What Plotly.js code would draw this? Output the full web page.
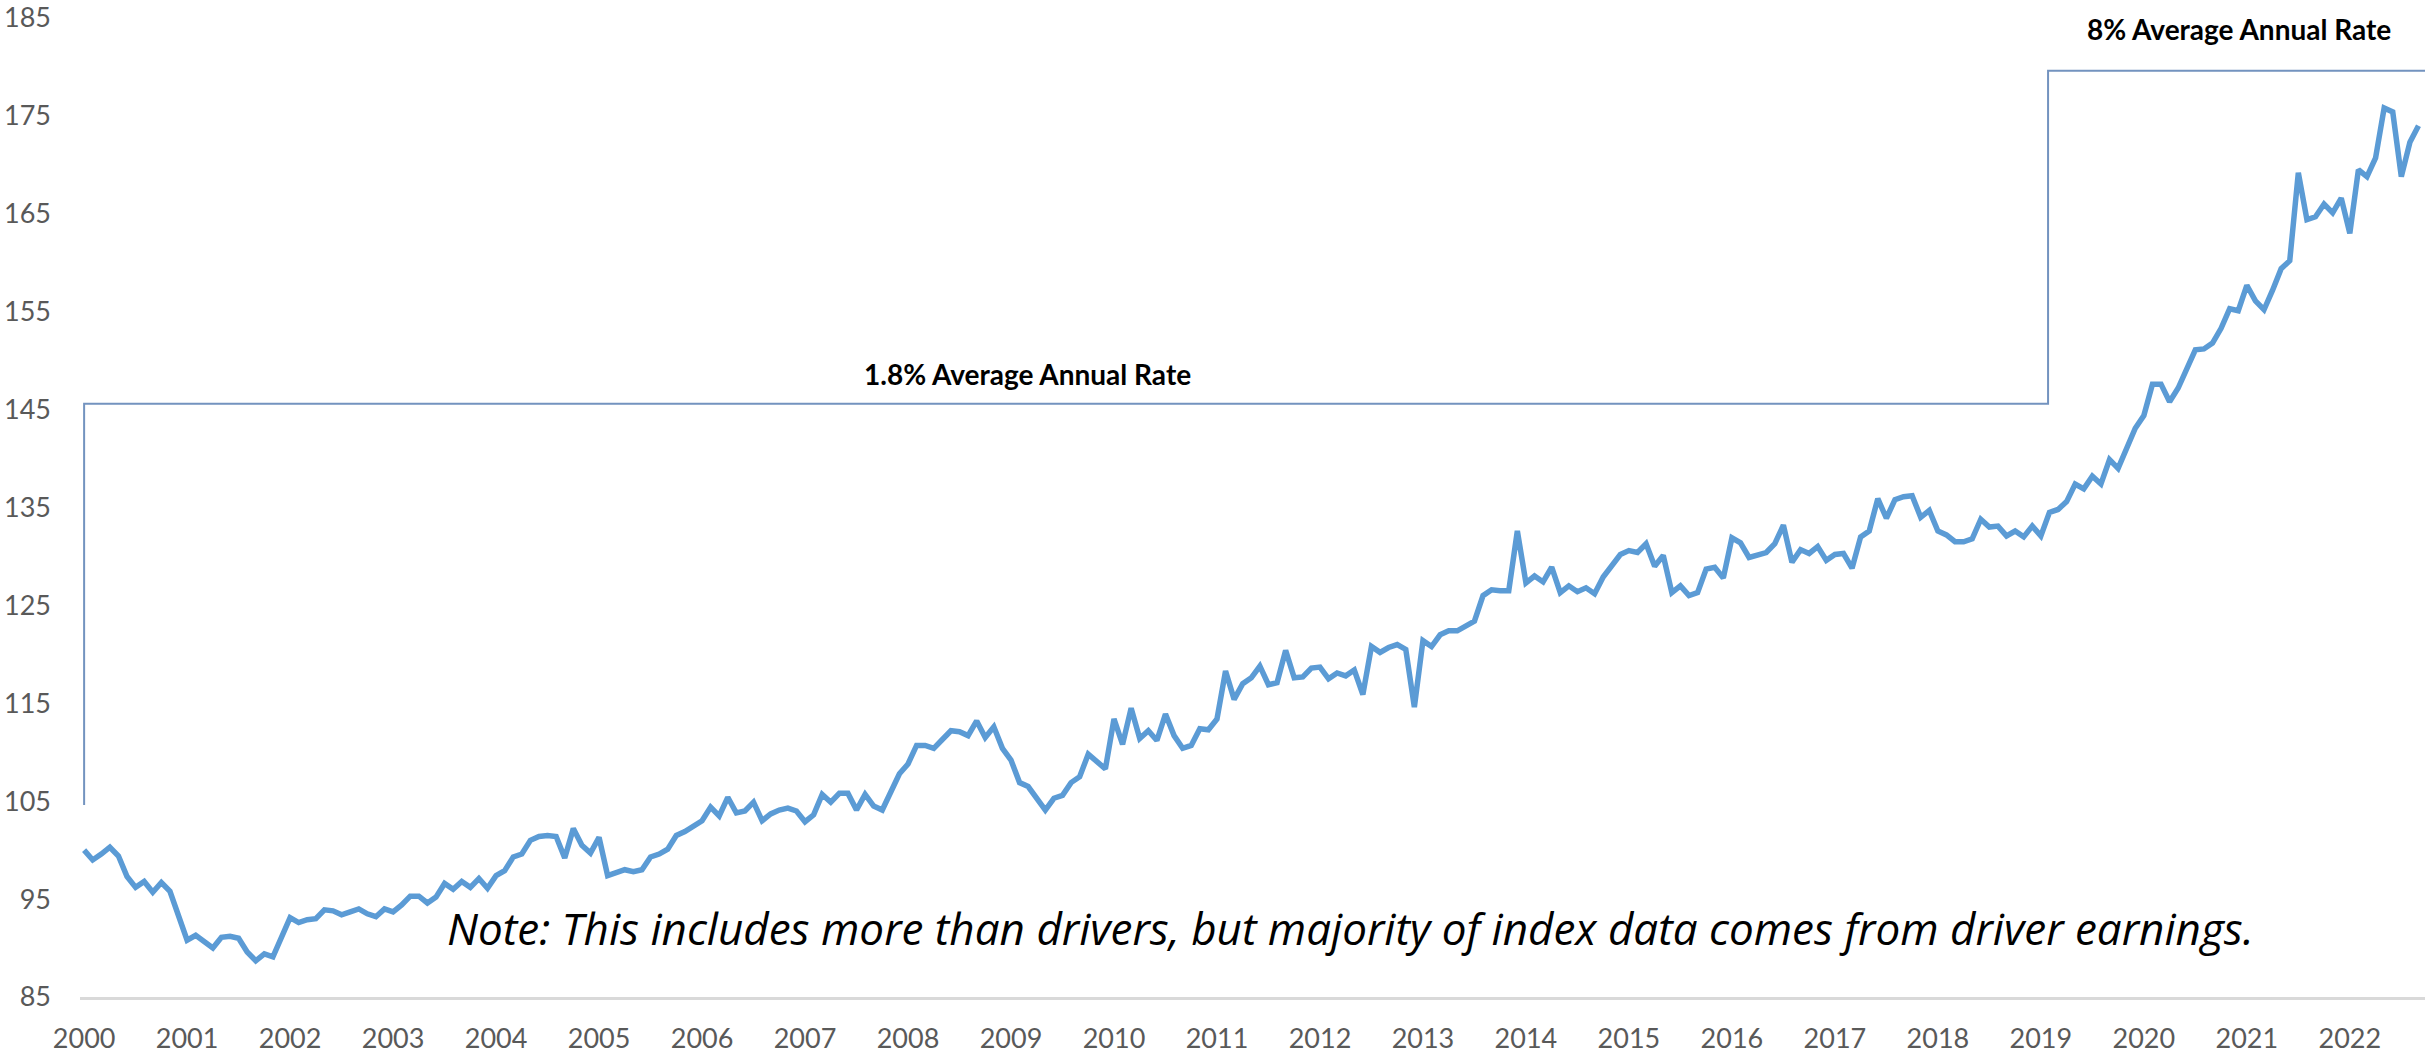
<!DOCTYPE html>
<html>
<head>
<meta charset="utf-8">
<script src="https://cdn.plot.ly/plotly-3.0.1.min.js"></script>
<style>
  html, body { margin: 0; padding: 0; background: #ffffff; }
  #chart { width: 2425px; height: 1053px; }
</style>
</head>
<body>
<div id="chart"></div>
<script>
// Monthly index values, Jan 2000 - Sep 2022 (one row per year)
const startYear = 2000;
const v2000 = [100.0, 99.0, 99.6, 100.3, 99.4, 97.3, 96.2, 96.8, 95.7, 96.7, 95.8, 93.4];
const v2001 = [90.8, 91.3, 90.6, 90.0, 91.1, 91.2, 91.0, 89.6, 88.7, 89.4, 89.1, 91.2];
const v2002 = [93.1, 92.6, 92.9, 93.0, 93.9, 93.8, 93.4, 93.7, 94.0, 93.5, 93.2, 94.0];
const v2003 = [93.7, 94.4, 95.3, 95.3, 94.6, 95.2, 96.6, 96.0, 96.8, 96.2, 97.1, 96.1];
const v2004 = [97.4, 97.9, 99.3, 99.6, 101.0, 101.4, 101.5, 101.4, 99.2, 102.2, 100.5, 99.7];
const v2005 = [101.3, 97.4, 97.7, 98.0, 97.8, 98.0, 99.3, 99.6, 100.1, 101.5, 101.9, 102.4];
const v2006 = [103.0, 104.4, 103.5, 105.4, 103.8, 104.0, 104.9, 103.0, 103.7, 104.1, 104.3, 104.0];
const v2007 = [102.9, 103.6, 105.7, 104.9, 105.8, 105.8, 104.1, 105.7, 104.5, 104.1, 105.9, 107.8];
const v2008 = [108.8, 110.7, 110.7, 110.4, 111.3, 112.2, 112.1, 111.7, 113.2, 111.5, 112.6, 110.4];
const v2009 = [109.2, 106.9, 106.5, 105.3, 104.1, 105.3, 105.6, 106.9, 107.5, 109.8, 109.0, 108.3];
const v2010 = [113.4, 110.8, 114.5, 111.4, 112.2, 111.2, 113.9, 111.7, 110.4, 110.7, 112.4, 112.3];
const v2011 = [113.4, 118.3, 115.4, 117.0, 117.6, 118.8, 116.9, 117.1, 120.4, 117.6, 117.7, 118.6];
const v2012 = [118.7, 117.5, 118.1, 117.8, 118.4, 115.9, 120.8, 120.2, 120.7, 121.0, 120.5, 114.6];
const v2013 = [121.4, 120.8, 122.0, 122.4, 122.4, 122.9, 123.4, 126.0, 126.6, 126.5, 126.5, 132.6];
const v2014 = [127.3, 128.0, 127.4, 128.9, 126.3, 127.0, 126.4, 126.8, 126.2, 127.9, 129.0, 130.2];
const v2015 = [130.6, 130.4, 131.3, 129.0, 130.1, 126.3, 127.0, 126.0, 126.3, 128.7, 128.9, 127.8];
const v2016 = [131.9, 131.4, 129.9, 130.2, 130.4, 131.3, 133.2, 129.4, 130.7, 130.3, 131.0, 129.6];
const v2017 = [130.2, 130.3, 128.8, 132.0, 132.6, 135.9, 133.9, 135.8, 136.1, 136.2, 134.0, 134.7];
const v2018 = [132.6, 132.2, 131.5, 131.5, 131.8, 133.8, 133.0, 133.1, 132.1, 132.6, 132.0, 133.1];
const v2019 = [132.1, 134.5, 134.8, 135.6, 137.4, 136.9, 138.2, 137.4, 139.9, 139.0, 140.9, 143.1];
const v2020 = [144.4, 147.6, 147.6, 145.8, 147.2, 149.2, 151.1, 151.2, 151.8, 153.3, 155.3, 155.1];
const v2021 = [157.7, 156.1, 155.2, 157.2, 159.4, 160.2, 169.2, 164.4, 164.7, 166.0, 165.1, 166.6];
const v2022 = [163.0, 169.5, 168.8, 170.7, 175.8, 175.4, 168.8, 172.3, 174.0];

// Rate bracket (period boundaries and levels)
const bracketX = [2000, 2000, 2019.07, 2019.07, 2022.8];
const bracketY = [104.6, 145.6, 145.6, 179.6, 179.6];

// Labels
const yearTicks = [2000, 2001, 2002, 2003, 2004, 2005, 2006, 2007, 2008, 2009, 2010, 2011,
                   2012, 2013, 2014, 2015, 2016, 2017, 2018, 2019, 2020, 2021, 2022];
const yTicks = [85, 95, 105, 115, 125, 135, 145, 155, 165, 175, 185];
const rateLabel1 = '1.8% Average Annual Rate';
const rateLabel2 = '8% Average Annual Rate';
const noteText = 'Note: This includes more than drivers, but majority of index data comes from driver earnings.';

const values = [].concat(v2000, v2001, v2002, v2003, v2004, v2005, v2006, v2007, v2008, v2009,
  v2010, v2011, v2012, v2013, v2014, v2015, v2016, v2017, v2018, v2019, v2020, v2021, v2022);
const months = values.map((_, i) => startYear + i / 12);

const traces = [
  {
    x: bracketX, y: bracketY, type: 'scatter', mode: 'lines',
    line: { color: '#7393BF', width: 2 }, hoverinfo: 'skip'
  },
  {
    x: months, y: values, type: 'scatter', mode: 'lines',
    line: { color: '#5B9BD5', width: 5.5 }
  }
];

const tickFont = { family: 'Lato, "Open Sans", sans-serif', size: 27, color: '#595959' };

const layout = {
  width: 2425, height: 1053,
  margin: { l: 80, r: 0, t: 18, b: 56 },
  paper_bgcolor: '#ffffff', plot_bgcolor: '#ffffff',
  showlegend: false,
  xaxis: {
    range: [1999.96, 2022.73],
    tickmode: 'array', tickvals: yearTicks, ticktext: yearTicks.map(String),
    showgrid: false, zeroline: false,
    showline: true, linecolor: '#D9D9D9', linewidth: 3,
    ticks: '', ticklabelstandoff: 16,
    tickfont: tickFont
  },
  yaxis: {
    range: [85, 185],
    tickmode: 'array', tickvals: yTicks, ticktext: yTicks.map(String),
    showgrid: false, zeroline: false, showline: false,
    ticks: '', ticklabelstandoff: 28,
    tickfont: tickFont
  },
  annotations: [
    {
      x: 2009.16, y: 148.6, xref: 'x', yref: 'y', text: rateLabel1, showarrow: false,
      xanchor: 'center', yanchor: 'middle',
      font: { family: 'Lato, "Open Sans", sans-serif', size: 28, color: '#000000', weight: 'bold' }
    },
    {
      x: 2020.92, y: 183.9, xref: 'x', yref: 'y', text: rateLabel2, showarrow: false,
      xanchor: 'center', yanchor: 'middle',
      font: { family: 'Lato, "Open Sans", sans-serif', size: 28, color: '#000000', weight: 'bold' }
    },
    {
      x: 2003.5, y: 92.0, xref: 'x', yref: 'y', text: noteText, showarrow: false,
      xanchor: 'left', yanchor: 'middle',
      font: { family: '"Open Sans", Lato, sans-serif', size: 44, color: '#000000', style: 'italic' }
    }
  ]
};

Plotly.newPlot('chart', traces, layout, { displayModeBar: false, staticPlot: true });
</script>
</body>
</html>
